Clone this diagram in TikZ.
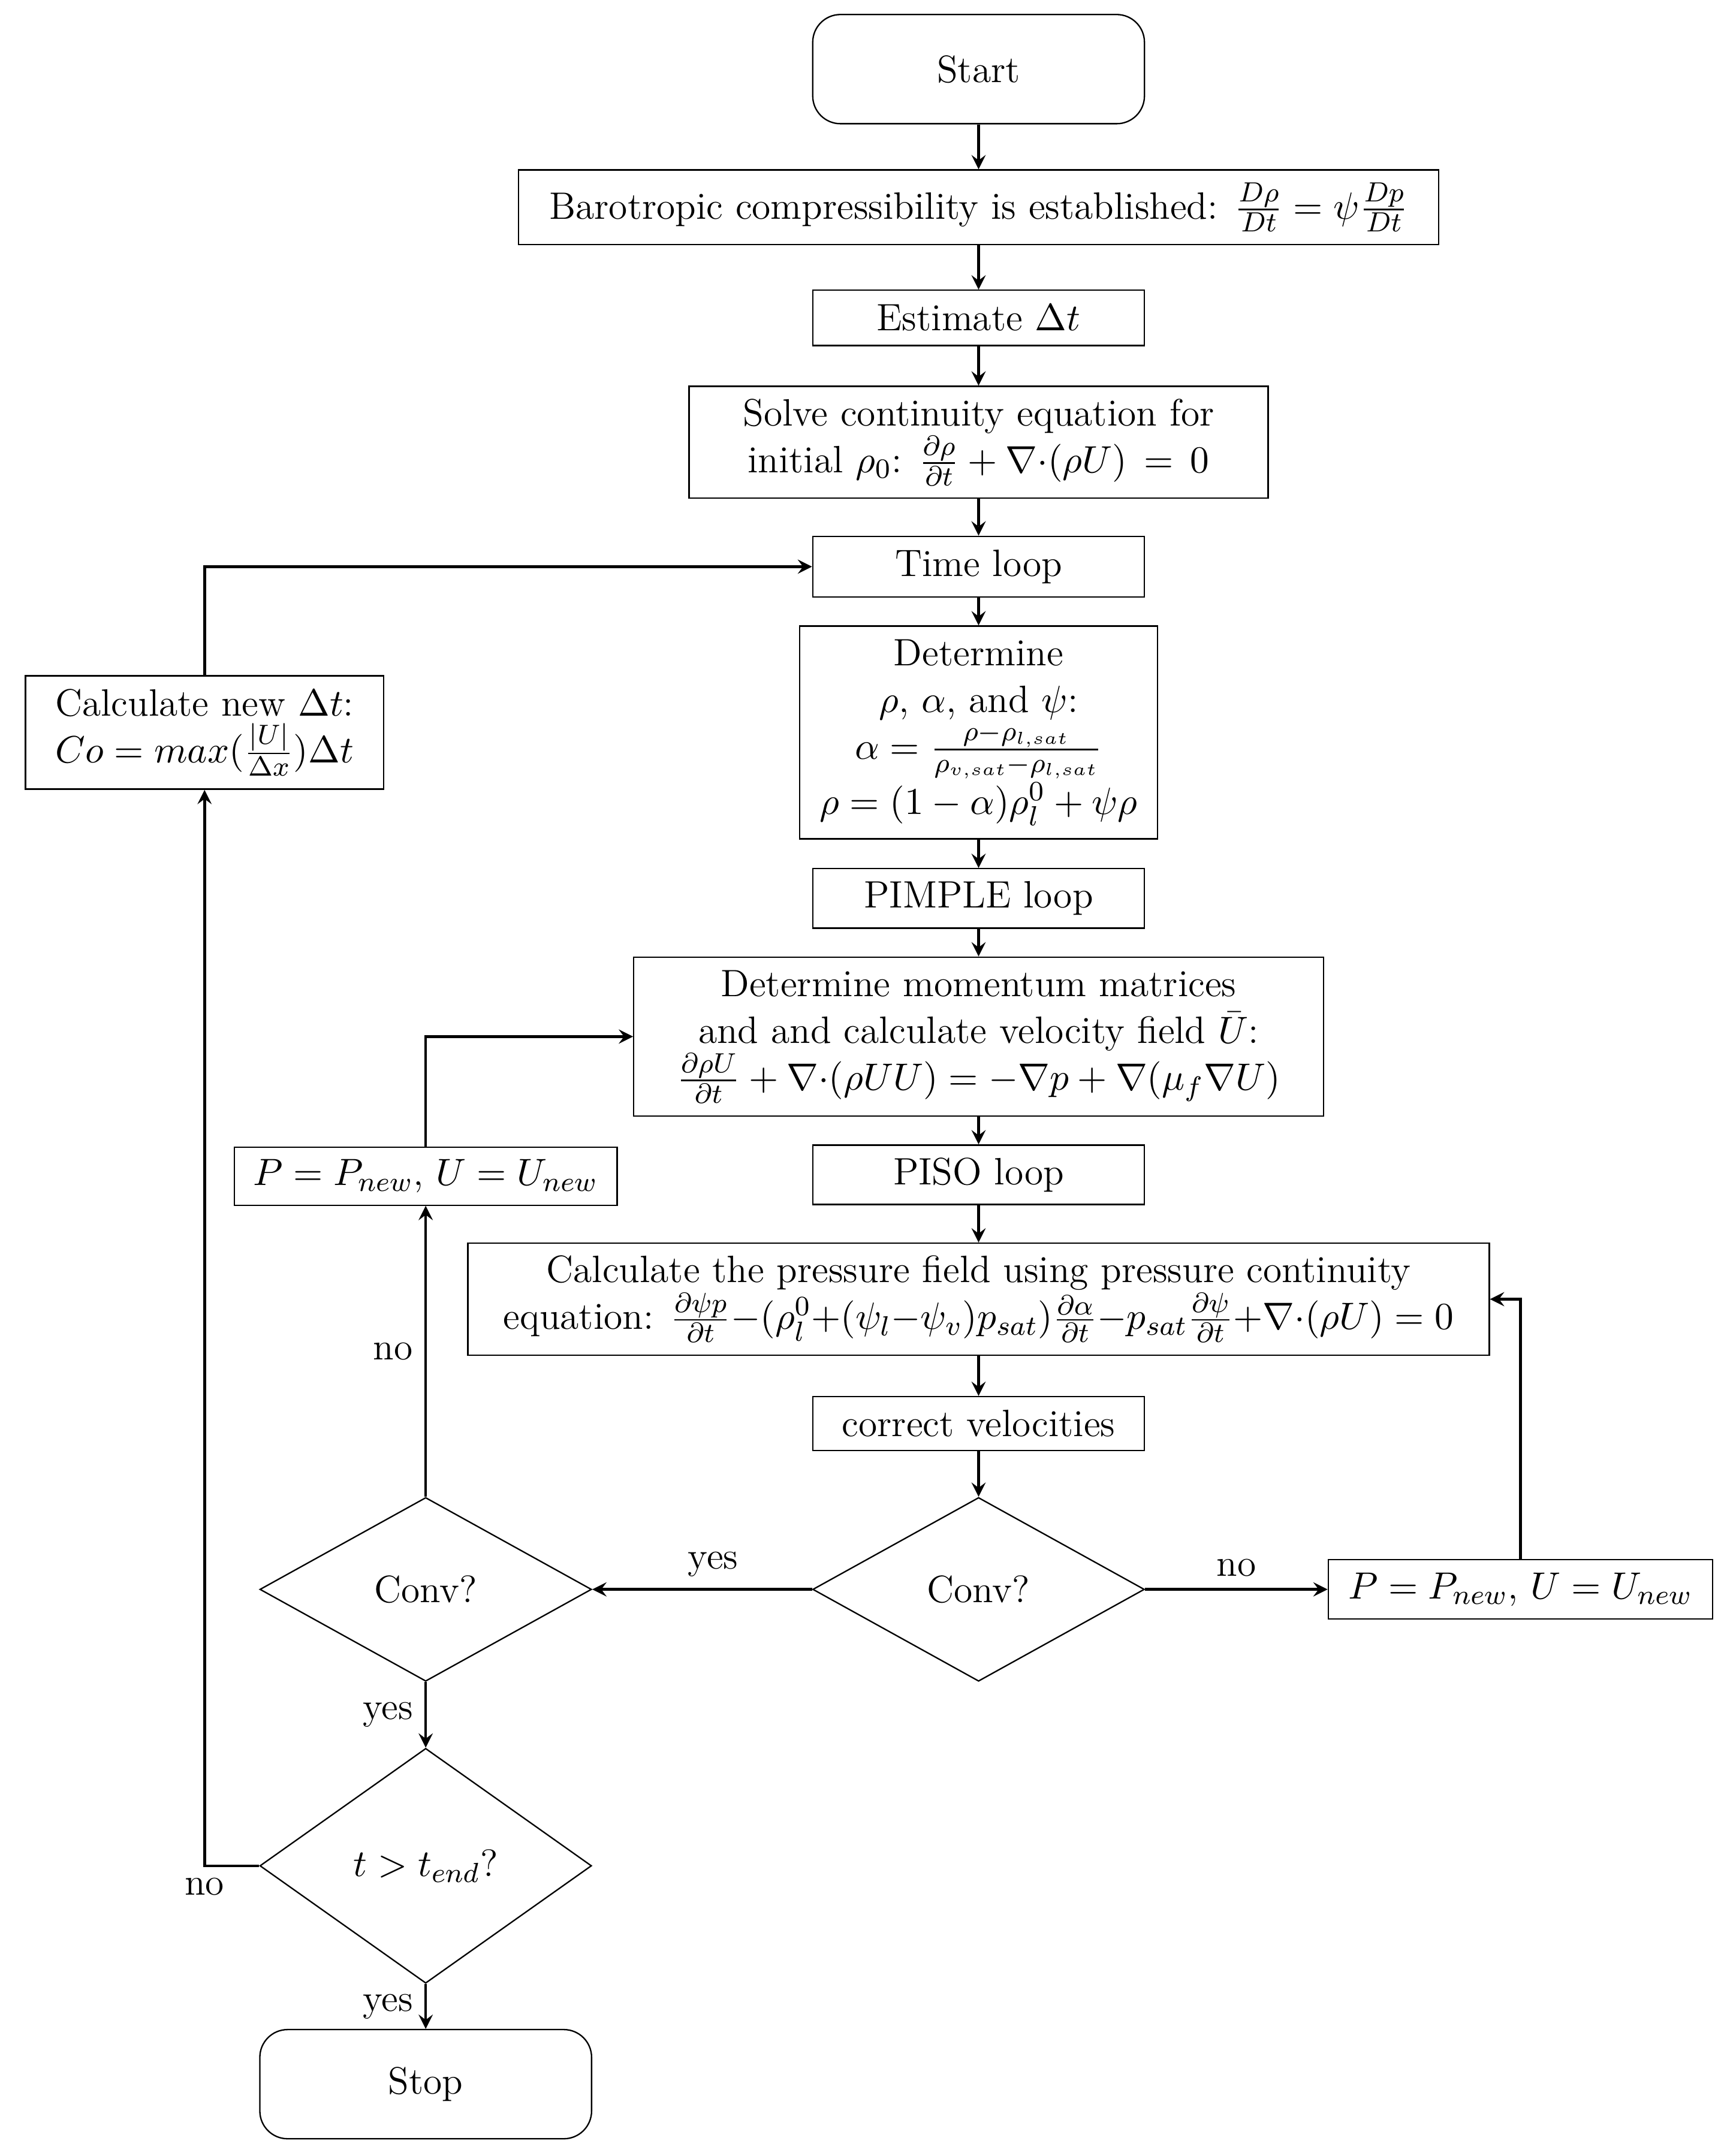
\documentclass[tikz,border=0pt]{standalone}
\usepackage{amsmath}
\usetikzlibrary{shapes.geometric,calc}
\begin{document}
\begin{tikzpicture}[x=0.014cm,y=-0.014cm,
  font=\fontsize{11}{13.5}\selectfont,
  box/.style={draw,rectangle,align=center,inner sep=2pt},
  rbox/.style={draw,rounded corners=8pt,minimum width=240*0.014cm,minimum height=79*0.014cm},
  dia/.style={draw,diamond,aspect=1.8,minimum width=240*0.014cm,minimum height=133*0.014cm,inner sep=0pt},
  arr/.style={->,>=stealth,thick}]
\useasboundingbox (0,0) rectangle (1245,1560);
\node[rbox] (start) at (708,50) {Start};
\node[box,minimum width=666*0.014cm,minimum height=54*0.014cm] (baro) at (708,150) {Barotropic compressibility is established: $\frac{D\rho}{Dt}=\psi\frac{Dp}{Dt}$};
\node[box,minimum width=240*0.014cm,minimum height=40*0.014cm] (est) at (708,230) {Estimate $\Delta t$};
\node[box,minimum width=419*0.014cm,minimum height=81*0.014cm] (solve) at (708,320) {Solve continuity equation for\\ initial $\rho_0$: $\frac{\partial\rho}{\partial t}+\nabla{\cdot}(\rho U)\,=\,0$};
\node[box,minimum width=240*0.014cm,minimum height=44*0.014cm] (time) at (708,410) {Time loop};
\node[box,minimum width=259*0.014cm,minimum height=154*0.014cm] (det) at (708,530) {Determine\\ $\rho$, $\alpha$, and $\psi$:\\ $\alpha=\frac{\rho-\rho_{l,sat}}{\rho_{v,sat}-\rho_{l,sat}}$\\ $\rho=(1-\alpha)\rho_l^0+\psi\rho$};
\node[box,minimum width=240*0.014cm,minimum height=43*0.014cm] (pimple) at (708,650) {PIMPLE loop};
\node[box,minimum width=499*0.014cm,minimum height=115*0.014cm] (mom) at (708,750) {Determine momentum matrices\\ and and calculate velocity field $\bar U$:\\ $\frac{\partial\rho U}{\partial t}+\nabla{\cdot}(\rho UU)=-\nabla p+\nabla(\mu_f\nabla U)$};
\node[box,minimum width=240*0.014cm,minimum height=43*0.014cm] (piso) at (708,850) {PISO loop};
\node[box,minimum width=739*0.014cm,minimum height=81*0.014cm] (pres) at (708,940) {Calculate the pressure field using pressure continuity\\ equation: $\frac{\partial\psi p}{\partial t}{-}(\rho_l^0{+}(\psi_l{-}\psi_v)p_{sat})\frac{\partial\alpha}{\partial t}{-}p_{sat}\frac{\partial\psi}{\partial t}{+}\nabla{\cdot}(\rho U)=0$};
\node[box,minimum width=240*0.014cm,minimum height=39*0.014cm] (corr) at (708,1030) {correct velocities};
\node[dia] (conv1) at (708,1150) {Conv?};
\node[box,minimum width=278*0.014cm,minimum height=43*0.014cm] (pn1) at (1100,1150) {$P=P_{new}$, $U=U_{new}$};
\node[dia] (conv2) at (308,1150) {Conv?};
\node[box,minimum width=277*0.014cm,minimum height=42*0.014cm] (pn2) at (308,851) {$P=P_{new}$, $U=U_{new}$};
\node[dia,minimum height=170*0.014cm] (tend) at (308,1350) {$t>t_{end}$?};
\node[rbox] (stop) at (308,1508) {Stop};
\node[box,minimum width=259*0.014cm,minimum height=82*0.014cm] (calc) at (148,530) {Calculate new $\Delta t$:\\ $Co=max(\frac{|U|}{\Delta x})\Delta t$};
\coordinate (corner) at (calc.south |- tend.west);
\draw[arr] (start)--(baro);
\draw[arr] (baro)--(est);
\draw[arr] (est)--(solve);
\draw[arr] (solve)--(time);
\draw[arr] (time)--(det);
\draw[arr] (det)--(pimple);
\draw[arr] (pimple)--(mom);
\draw[arr] (mom)--(piso);
\draw[arr] (piso)--(pres);
\draw[arr] (pres)--(corr);
\draw[arr] (corr)--(conv1);
\draw[arr] (conv1)--node[above,pos=0.5]{no}(pn1);
\draw[arr] (pn1.north)|-(pres.east);
\draw[arr] (conv1)--node[above,pos=0.45]{yes}(conv2);
\draw[arr] (conv2)--node[left,pos=0.5]{no}(pn2);
\draw[arr] (pn2.north)|-(mom.west);
\draw[arr] (conv2)--node[left]{yes}(tend);
\draw[arr] (tend)--node[left]{yes}(stop);
\draw[arr] (tend.west)--(corner)--(calc.south);
\node[below] (nolab) at (corner) {no};
\draw[arr] (calc.north)|-(time.west);
\end{tikzpicture}
\end{document}
